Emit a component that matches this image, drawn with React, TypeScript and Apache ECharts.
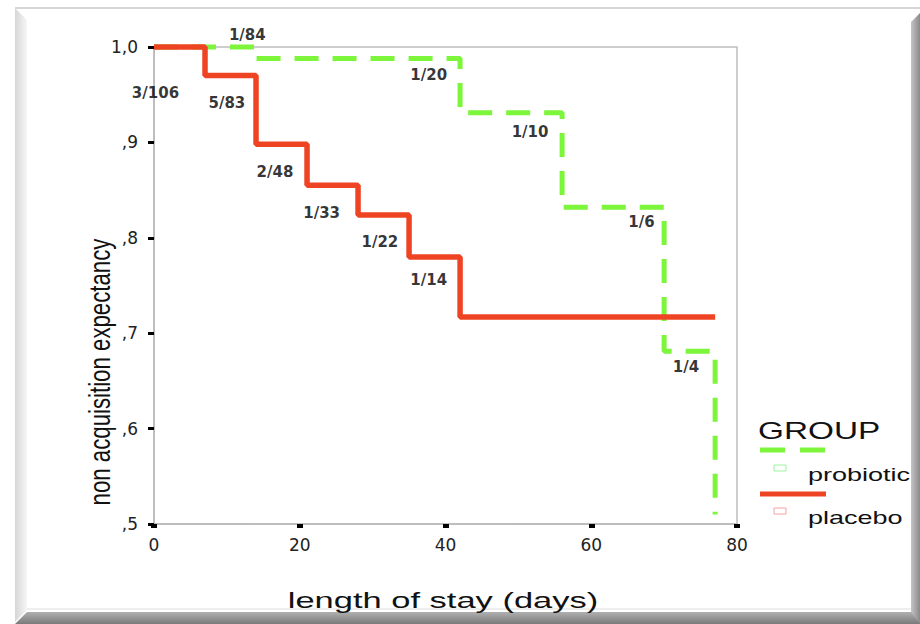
import React, { useEffect, useRef } from "react";
import * as echarts from "echarts";

// Kaplan-Meier style step data (days, non acquisition expectancy)
const probioticDays = [0, 14, 42, 56, 70, 77];
const probioticValues = [1.0, 0.988, 0.931, 0.832, 0.681, 0.51];
const placeboDays = [0, 7, 14, 21, 28, 35, 42, 77];
const placeboValues = [1.0, 0.97, 0.898, 0.855, 0.824, 0.78, 0.717, 0.717];

// event annotations (text, anchored in data coordinates)
const noteTexts = ["1/84", "3/106", "5/83", "2/48", "1/33", "1/22", "1/14", "1/20", "1/10", "1/6", "1/4"];
const noteDays = [12.8, 0.2, 10.0, 16.6, 23.0, 31.0, 37.7, 37.7, 51.6, 66.9, 73.0];
const noteValues = [1.0126, 0.952, 0.941, 0.869, 0.826, 0.796, 0.756, 0.971, 0.911, 0.817, 0.665];

const xTicks = [0, 20, 40, 60, 80];
const yTicks = [0.5, 0.6, 0.7, 0.8, 0.9, 1.0];
const yTickLabels = [",5", ",6", ",7", ",8", ",9", "1,0"];

const seriesNames = ["probiotic", "placebo"];
const groupTitle = "GROUP";
const xName = "length of stay (days)";
const yName = "non acquisition expectancy";

const GREEN = "#7cf53a";
const RED = "#ee4424";

export default function App() {
  const ref = useRef<HTMLDivElement>(null);
  useEffect(() => {
    if (!ref.current) return;
    const chart = echarts.init(ref.current, null, { renderer: "svg" });
    const probData = probioticDays.map((d, i) => [d, probioticValues[i]]);
    const placData = placeboDays.map((d, i) => [d, placeboValues[i]]);
    const notes = noteTexts.map((t, i) => ({ name: t, value: [noteDays[i], noteValues[i]] }));

    chart.setOption({
      animation: false,
      backgroundColor: "#ffffff",
      grid: {
        left: 154,
        right: 183,
        top: 47,
        bottom: 100,
        show: true,
        borderColor: "#bdbdbd",
        borderWidth: 1.5,
      },
      xAxis: {
        type: "value",
        min: xTicks[0],
        max: xTicks[xTicks.length - 1],
        interval: 20,
        splitLine: { show: false },
        axisLine: { show: true, lineStyle: { color: "#b8b8b8", width: 1.5 } },
        axisTick: { show: true, length: 4, lineStyle: { color: "#000", width: 6 } },
        axisLabel: {
          margin: 12,
          color: "#222",
          fontSize: 17,
          fontFamily: "DejaVu Sans",
        },
      },
      yAxis: {
        type: "value",
        min: yTicks[0],
        max: yTicks[yTicks.length - 1],
        interval: 0.1,
        splitLine: { show: false },
        axisLine: { show: true, lineStyle: { color: "#b8b8b8", width: 1.5 } },
        axisTick: { show: true, length: 6, lineStyle: { color: "#000", width: 3 } },
        axisLabel: {
          margin: 16,
          color: "#222",
          fontSize: 17,
          fontFamily: "DejaVu Sans",
          formatter: (v: number) => {
            const idx = yTicks.findIndex((t) => Math.abs(t - v) < 1e-6);
            return idx >= 0 ? yTickLabels[idx] : "";
          },
        },
      },
      series: [
        {
          name: seriesNames[0],
          type: "line",
          step: "end",
          data: probData,
          showSymbol: false,
          symbol: "none",
          clip: false,
          lineStyle: { color: GREEN, width: 5, type: [24, 14] },
          z: 2,
          silent: true,
        },
        {
          name: seriesNames[1],
          type: "line",
          step: "end",
          data: placData,
          showSymbol: false,
          symbol: "none",
          clip: false,
          lineStyle: { color: RED, width: 5.5 },
          z: 3,
          silent: true,
        },
        {
          type: "scatter",
          data: notes,
          symbolSize: 0,
          clip: false,
          silent: true,
          z: 4,
          label: {
            show: true,
            position: "inside",
            formatter: (p: any) => p.name,
            color: "#000",
            textBorderWidth: 0,
            fontSize: 15,
            fontWeight: "bold",
            fontFamily: "DejaVu Sans",
          },
        },
      ],
      graphic: [
        // frame
        {
          type: "line",
          shape: { x1: 15, y1: 8, x2: 920, y2: 8 },
          style: { stroke: "#c8c8c8", lineWidth: 1.5 },
          silent: true,
        },
        {
          type: "polygon",
          shape: { points: [[15, 8], [27, 20], [27, 610], [15, 622]] },
          style: {
            fill: new echarts.graphic.LinearGradient(0, 0, 1, 0, [
              { offset: 0, color: "#d6d6d6" },
              { offset: 1, color: "#f6f6f6" },
            ]),
          },
          silent: true,
        },
        {
          type: "line",
          shape: { x1: 27, y1: 609, x2: 911, y2: 609 },
          style: { stroke: "#eeeeee", lineWidth: 2 },
          silent: true,
        },
        {
          type: "polygon",
          shape: { points: [[15, 624], [27, 612], [920, 612], [920, 624]] },
          style: {
            fill: new echarts.graphic.LinearGradient(0, 0, 0, 1, [
              { offset: 0, color: "#b0b0b0" },
              { offset: 1, color: "#7a7a7a" },
            ]),
          },
          silent: true,
        },
        {
          type: "polygon",
          shape: { points: [[911, 22], [920, 13], [920, 624], [911, 612]] },
          style: {
            fill: new echarts.graphic.LinearGradient(0, 0, 1, 0, [
              { offset: 0, color: "#c4c4c4" },
              { offset: 1, color: "#8a8a8a" },
            ]),
          },
          silent: true,
        },
        // axis names
        {
          type: "text",
          x: 443,
          y: 600,
          scaleX: 1.5,
          style: {
            text: xName,
            fontSize: 23,
            fontFamily: "Liberation Sans",
            fill: "#111",
            align: "center",
            verticalAlign: "middle",
          },
          silent: true,
        },
        {
          type: "text",
          x: 100,
          y: 372,
          rotation: Math.PI / 2,
          scaleX: 0.855,
          scaleY: 1.1,
          style: {
            text: yName,
            fontSize: 26,
            fontFamily: "Liberation Sans",
            fill: "#111",
            align: "center",
            verticalAlign: "middle",
          },
          silent: true,
        },
        // legend
        {
          type: "text",
          x: 758,
          y: 431,
          scaleX: 1.45,
          style: {
            text: groupTitle,
            fontSize: 23,
            fontFamily: "Liberation Sans",
            fill: "#111",
            align: "left",
            verticalAlign: "middle",
          },
          silent: true,
        },
        {
          type: "line",
          shape: { x1: 760, y1: 450, x2: 826, y2: 450 },
          style: { stroke: GREEN, lineWidth: 5, lineDash: [25, 15] },
          silent: true,
        },
        {
          type: "rect",
          shape: { x: 774, y: 465, width: 12, height: 6 },
          style: { stroke: "#9cf59c", fill: "none", lineWidth: 1 },
          silent: true,
        },
        {
          type: "text",
          x: 808,
          y: 475,
          scaleX: 1.5,
          style: {
            text: seriesNames[0],
            fontSize: 18,
            fontFamily: "Liberation Sans",
            fill: "#111",
            align: "left",
            verticalAlign: "middle",
          },
          silent: true,
        },
        {
          type: "line",
          shape: { x1: 760, y1: 494, x2: 826, y2: 494 },
          style: { stroke: RED, lineWidth: 5 },
          silent: true,
        },
        {
          type: "rect",
          shape: { x: 774, y: 508, width: 12, height: 6 },
          style: { stroke: "#f5a0a0", fill: "none", lineWidth: 1 },
          silent: true,
        },
        {
          type: "text",
          x: 808,
          y: 518,
          scaleX: 1.5,
          style: {
            text: seriesNames[1],
            fontSize: 18,
            fontFamily: "Liberation Sans",
            fill: "#111",
            align: "left",
            verticalAlign: "middle",
          },
          silent: true,
        },
      ],
    });
    return () => chart.dispose();
  }, []);
  return (
    <div
      ref={ref}
      style={{ position: "fixed", left: 0, top: 0, width: 920, height: 624 }}
    />
  );
}
